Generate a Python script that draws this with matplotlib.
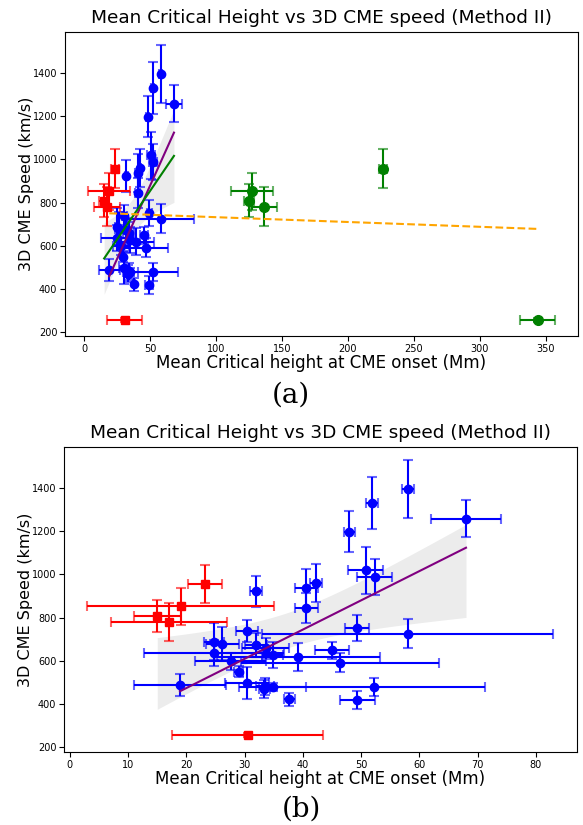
import numpy as np
import matplotlib
matplotlib.use('Agg')
import matplotlib.pyplot as plt

# blue events: mean critical height (Mm), 3D speed (km/s) and errors
blue_h = [18.9, 24.7, 26.2, 24.7, 27.6, 29.0, 30.4, 30.4, 31.9, 31.9, 33.6,
          34.8, 39.2, 33.5, 34.8, 33.4, 37.7, 40.6, 42.2, 40.6, 58.0, 51.9,
          48.0, 68.0, 50.8, 52.3, 49.3, 58.0, 45.0, 46.4, 52.2, 49.3]
blue_v = [487, 688, 680, 637, 598, 549, 737, 498, 922, 672, 658,
          626, 618, 482, 478, 470, 421, 937, 962, 843, 1395, 1331,
          1198, 1258, 1019, 988, 752, 725, 649, 592, 479, 420]
blue_herr = [7.9, 1.7, 2.9, 12.0, 6.1, 0.8, 1.9, 3.8, 1.0, 1.9, 4.0,
             1.8, 14.0, 1.5, 5.7, 1.0, 1.0, 2.0, 1.0, 2.0, 1.0, 1.0,
             1.0, 6.0, 3.0, 3.0, 2.0, 25.0, 3.0, 17.0, 19.0, 3.0]
blue_verr = [52, 85, 77, 60, 40, 25, 52, 75, 73, 55, 50,
             60, 63, 40, 20, 40, 30, 90, 88, 70, 135, 120,
             94, 85, 110, 83, 60, 67, 40, 46, 40, 42]

# same five events, two height estimates (red: low, green: high)
red_h = [23.2, 19.0, 15.0, 17.0, 30.5]
green_h = [226.7, 127.5, 125.0, 136.4, 344.0]
odd_v = [956, 852, 809, 781, 257]
odd_herr = [3.0, 16.0, 4.0, 10.0, 13.0]
odd_verr = [90, 86, 75, 89, 10]

title = 'Mean Critical Height vs 3D CME speed (Method II)'
xlab = 'Mean Critical height at CME onset (Mm)'
ylab = '3D CME Speed (km/s)'


def fit(x, y):
    x = np.asarray(x, float)
    y = np.asarray(y, float)
    b, a = np.polyfit(x, y, 1)
    xs = np.linspace(x.min(), x.max(), 100)
    res = y - (a + b * x)
    s = np.sqrt(np.sum(res ** 2) / (len(x) - 2))
    se = s * np.sqrt(1 / len(x) + (xs - x.mean()) ** 2 / np.sum((x - x.mean()) ** 2))
    return xs, a + b * xs, 2.03 * se


def ebar(ax, x, y, xe, ye, c, m, ms=6):
    _, caps, _ = ax.errorbar(x, y, xerr=xe, yerr=ye, fmt=m, color=c, ms=ms,
                             capsize=3.5, elinewidth=1.5, capthick=1.5)
    for cl in caps:
        cl.set_alpha(0.6)


all_h = blue_h + red_h
all_v = blue_v + odd_v
gx, gy, gci = fit(all_h, all_v)
px_, py_, _ = fit(blue_h, blue_v)
ox, oy, _ = fit(blue_h + green_h, blue_v + odd_v)

fig = plt.figure(figsize=(5.83, 8.25), dpi=100)
ax1 = fig.add_axes([0.1115, 0.5927, 0.880, 0.369])
ax2 = fig.add_axes([0.1098, 0.0881, 0.8794, 0.3704])

for ax in (ax1, ax2):
    ebar(ax, blue_h, blue_v, blue_herr, blue_verr, 'blue', 'o')
    ebar(ax, red_h, odd_v, odd_herr, odd_verr, 'red', 's')
    ax.fill_between(gx, gy - gci, gy + gci, color='grey', alpha=0.15, lw=0, zorder=1)
    ax.plot(px_, py_, color='purple', lw=1.5, zorder=4)
    ax.set_title(title, fontsize=13.3, pad=6)
    ax.set_xlabel(xlab, fontsize=12, labelpad=0)
    ax.set_ylabel(ylab, fontsize=11.5, labelpad=-1)
    ax.tick_params(labelsize=7, pad=2)

ebar(ax1, green_h, odd_v, odd_herr, odd_verr, 'green', 'o', ms=7)
ax1.plot(gx, gy, color='green', lw=1.5, zorder=4)
ax1.plot(ox, oy, color='orange', ls='--', lw=1.5, zorder=4)

ax1.set_ylim(182, 1592)
ax2.set_ylim(176, 1592)
ax2.set_xlim(-1, 87)

fig.text(0.499, 0.521, '(a)', fontsize=20, family='DejaVu Serif', ha='center', va='center')
fig.text(0.517, 0.019, '(b)', fontsize=20, family='DejaVu Serif', ha='center', va='center')

fig.savefig('out.png', dpi=100)
